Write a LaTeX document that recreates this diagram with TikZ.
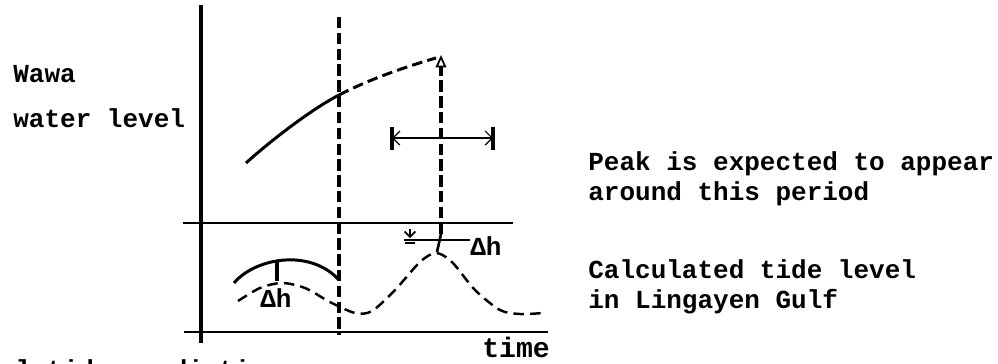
\documentclass[tikz,border=0pt]{standalone}
\usepackage{fontspec}
\setmonofont{Liberation Mono}
\usetikzlibrary{arrows.meta,positioning}

\begin{document}
\begin{tikzpicture}[x=0.02cm,y=-0.02cm,
  lbl/.style={font=\ttfamily\bfseries\fontsize{14.8}{17}\selectfont,inner sep=0pt,anchor=base west},
  axisln/.style={line width=2.2pt},
  guide/.style={line width=2pt,dash pattern=on 6.5pt off 2.5pt},
  lvl/.style={line width=1.7pt},
  tide/.style={line width=1.4pt,dash pattern=on 6pt off 3.5pt}]
\useasboundingbox (0,0) rectangle (998,363);
% axes and reference lines
\coordinate (ytop) at (201,5); \coordinate (ybot) at (201,343);
\draw[axisln] (ytop) -- (ybot);
\coordinate (xl) at (184,332); \coordinate (xr) at (548,332);
\draw[line width=1.1pt] (xl) -- (xr);
\coordinate (sl) at (183,223); \coordinate (sr) at (513,223);
\draw[line width=0.6pt] (sl) -- (sr);
% present time and expected peak
\coordinate (nowtop) at (339,17); \coordinate (nowbot) at (339,335);
\draw[guide] (nowtop) -- (nowbot);
\coordinate (pkbot) at (441,234); \coordinate (pktop) at (441,55);
\draw[guide,-{Triangle[open,length=7pt,width=6pt,line width=1pt]}] (pkbot) -- (pktop);
\coordinate (tpk) at (437,252);
\draw[line width=1.5pt] (pkbot) -- (tpk);
% expected period
\coordinate (pl) at (392,138); \coordinate (pr) at (493,138);
\foreach \x in {392,493}{\draw[line width=2pt] (\x,127) -- (\x,150);}
\draw[line width=0.7pt,{Straight Barb[length=4pt]}-{Straight Barb[length=4pt]}] (pl) -- (pr);
% Wawa water level
\coordinate (w0) at (246,163); \coordinate (wnow) at (339,95); \coordinate (wpk) at (436,58);
\draw[lvl] (w0) .. controls (268,143) and (310,110) .. (wnow);
\draw[lvl,dash pattern=on 6pt off 3pt] (wnow) .. controls (370,79) and (405,67) .. (wpk);
% observed level over the tide
\draw[lvl] (234,283) .. controls (255,258) and (310,248) .. (339,280);
\draw[line width=1.8pt] (277,260) -- (277,281);
\draw[tide] plot[smooth] coordinates {(238,301) (260,288) (282,283) (305,288) (330,302)
  (355,313) (372,311) (395,290) (420,262) (436,253) (452,262) (475,290) (500,310) (520,314) (543,313)};
% level offset at the peak
\coordinate (dl) at (404,240); \coordinate (dr) at (470,240);
\draw[line width=0.6pt] (dl) -- (dr);
\draw[line width=1pt,-{Straight Barb[length=3pt]}] (410,229) -- (410,238);
\draw[line width=1pt] (405,243) -- (415,243);
% labels
\node[lbl] (wawa) at (13,82) {Wawa};
\node[lbl] (wlevel) at (13,127) {water level};
\node[lbl] (dhlow) at (260,307) {Δh};
\node[lbl] (dhpk) at (470,255) {Δh};
\node[lbl,font=\ttfamily\bfseries\fontsize{16}{18}\selectfont] (timelbl) at (482,357) {time};
\node[lbl] (peak1) at (588,170) {Peak is expected to appear};
\node[lbl] (peak2) at (588,200) {around this period};
\node[lbl] (tide1) at (588,278) {Calculated tide level};
\node[lbl] (tide2) at (588,308) {in Lingayen Gulf};
\node[lbl] (predtxt) at (0,378) {al tide prediction};
\end{tikzpicture}
\end{document}
